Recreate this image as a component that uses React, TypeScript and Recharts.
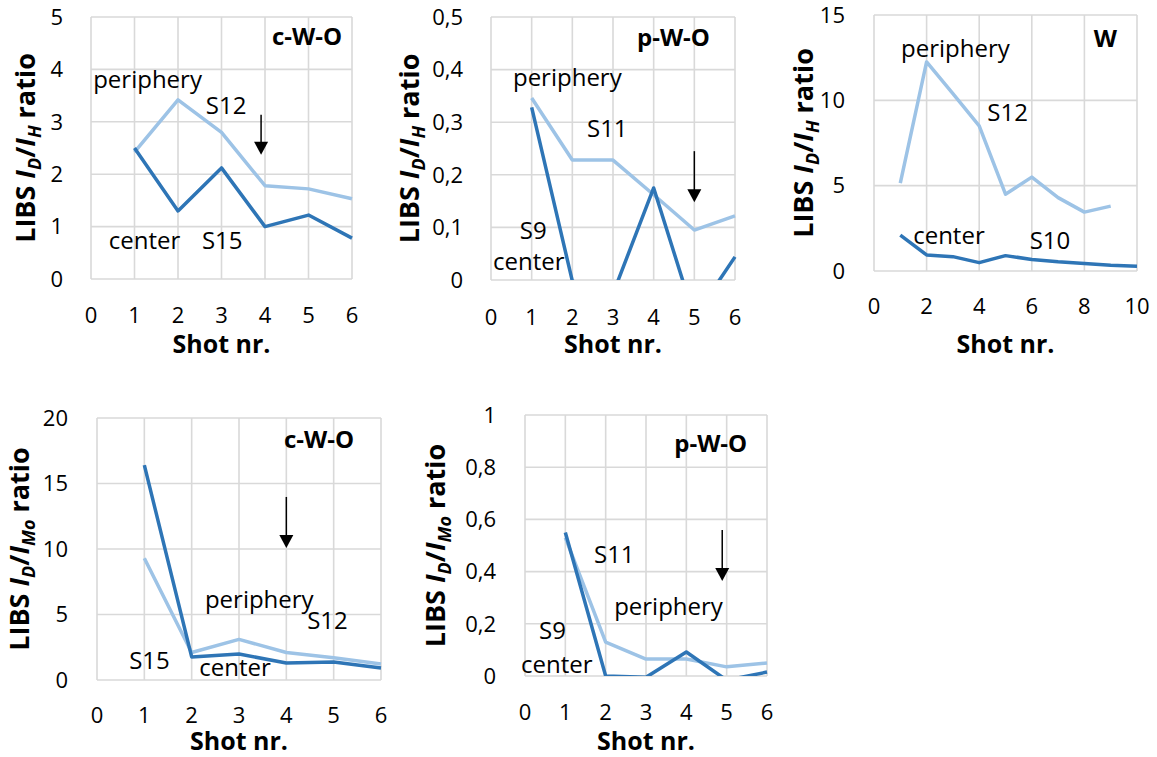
import { LineChart, Line, XAxis, YAxis, CartesianGrid, ReferenceDot, Label } from "recharts";

// shot numbers
const shots6 = [1, 2, 3, 4, 5, 6];
const shots10 = [1, 2, 3, 4, 5, 6, 7, 8, 9, 10];

// LIBS D/H ratio
const cwoH_periphery = [2.42, 3.42, 2.8, 1.78, 1.72, 1.53];
const cwoH_center = [2.5, 1.3, 2.12, 1.0, 1.22, 0.78];
const pwoH_periphery = [0.346, 0.228, 0.228, 0.162, 0.095, 0.122];
const pwoH_center = [0.328, -0.002, -0.026, 0.175, -0.071, 0.044];
const wH_periphery = [5.15, 12.25, 10.4, 8.5, 4.5, 5.5, 4.3, 3.45, 3.8];
const wH_center = [2.1, 0.94, 0.84, 0.49, 0.9, 0.68, 0.54, 0.44, 0.34, 0.28];

// LIBS D/Mo ratio
const cwoMo_periphery = [9.3, 2.1, 3.1, 2.1, 1.7, 1.22];
const cwoMo_center = [16.4, 1.76, 1.98, 1.3, 1.37, 0.92];
const pwoMo_periphery = [0.53, 0.13, 0.065, 0.065, 0.035, 0.05];
const pwoMo_center = [0.55, 0, -0.005, 0.092, -0.016, 0.015];

// axis ticks
const xTicks6 = [0, 1, 2, 3, 4, 5, 6];
const xTicks10 = [0, 2, 4, 6, 8, 10];
const yTicks5 = [0, 1, 2, 3, 4, 5];
const yTicks05 = [0, 0.1, 0.2, 0.3, 0.4, 0.5];
const yTicks15 = [0, 5, 10, 15];
const yTicks20 = [0, 5, 10, 15, 20];
const yTicks1 = [0, 0.2, 0.4, 0.6, 0.8, 1];

const LIGHT = "#9DC3E6";
const DARK = "#2E75B6";
const GRID = "#D9D9D9";
const FONT = "'Open Sans', sans-serif";

type Note = { text: string; x: number; y: number; bold?: boolean };

type PanelCfg = {
  box: { left: number; top: number; width: number; height: number };
  plot: { left: number; right: number; top: number; bottom: number };
  shots: number[];
  periphery: number[];
  center: number[];
  xMax: number;
  xTicks: number[];
  yMax: number;
  yTicks: number[];
  xTickGap: number;
  yTickGap: number;
  yLabelX: number;
  sub: string;
  notes: Note[];
  arrow?: { x: number; y: number; len: number };
};

const panels: PanelCfg[] = [
  {
    box: { left: 0, top: 0, width: 365, height: 360 },
    plot: { left: 91, right: 352, top: 17, bottom: 279 },
    shots: shots6, periphery: cwoH_periphery, center: cwoH_center,
    xMax: 6, xTicks: xTicks6, yMax: 5, yTicks: yTicks5,
    xTickGap: 28, yTickGap: 28, yLabelX: 35, sub: "H",
    notes: [
      { text: "periphery", x: 0.05, y: 3.65 },
      { text: "S12", x: 2.64, y: 3.15 },
      { text: "center", x: 0.41, y: 0.57 },
      { text: "S15", x: 2.55, y: 0.57 },
      { text: "c-W-O", x: 4.16, y: 4.47, bold: true },
    ],
    arrow: { x: 3.91, y: 2.37, len: 40 },
  },
  {
    box: { left: 380, top: 0, width: 370, height: 360 },
    plot: { left: 111, right: 355, top: 17, bottom: 280 },
    shots: shots6, periphery: pwoH_periphery, center: pwoH_center,
    xMax: 6, xTicks: xTicks6, yMax: 0.5, yTicks: yTicks05,
    xTickGap: 29, yTickGap: 28, yLabelX: 39, sub: "H",
    notes: [
      { text: "periphery", x: 0.54, y: 0.369 },
      { text: "S11", x: 2.36, y: 0.272 },
      { text: "S9", x: 0.71, y: 0.078 },
      { text: "center", x: 0.05, y: 0.019 },
      { text: "p-W-O", x: 3.59, y: 0.445, bold: true },
    ],
    arrow: { x: 5, y: 0.148, len: 51 },
  },
  {
    box: { left: 770, top: 0, width: 387, height: 360 },
    plot: { left: 104, right: 367, top: 15, bottom: 271 },
    shots: shots10, periphery: wH_periphery, center: wH_center,
    xMax: 10, xTicks: xTicks10, yMax: 15, yTicks: yTicks15,
    xTickGap: 27, yTickGap: 29, yLabelX: 43, sub: "H",
    notes: [
      { text: "periphery", x: 1.03, y: 12.54 },
      { text: "S12", x: 4.31, y: 8.79 },
      { text: "center", x: 1.49, y: 1.58 },
      { text: "S10", x: 5.92, y: 1.29 },
      { text: "W", x: 8.36, y: 13.12, bold: true },
    ],
  },
  {
    box: { left: 0, top: 390, width: 390, height: 367 },
    plot: { left: 97, right: 381, top: 28, bottom: 290 },
    shots: shots6, periphery: cwoMo_periphery, center: cwoMo_center,
    xMax: 6, xTicks: xTicks6, yMax: 20, yTicks: yTicks20,
    xTickGap: 27, yTickGap: 29, yLabelX: 29, sub: "Mo",
    notes: [
      { text: "periphery", x: 2.28, y: 5.5 },
      { text: "S12", x: 4.44, y: 3.9 },
      { text: "S15", x: 0.68, y: 0.84 },
      { text: "center", x: 2.16, y: 0.3 },
      { text: "c-W-O", x: 3.95, y: 17.7, bold: true },
    ],
    arrow: { x: 4, y: 10.08, len: 51 },
  },
  {
    box: { left: 410, top: 390, width: 380, height: 367 },
    plot: { left: 115, right: 357, top: 25, bottom: 286 },
    shots: shots6, periphery: pwoMo_periphery, center: pwoMo_center,
    xMax: 6, xTicks: xTicks6, yMax: 1, yTicks: yTicks1,
    xTickGap: 28, yTickGap: 29, yLabelX: 35, sub: "Mo",
    notes: [
      { text: "S11", x: 1.71, y: 0.433 },
      { text: "periphery", x: 2.21, y: 0.234 },
      { text: "S9", x: 0.35, y: 0.142 },
      { text: "center", x: -0.1, y: 0.011 },
      { text: "p-W-O", x: 3.7, y: 0.858, bold: true },
    ],
    arrow: { x: 4.89, y: 0.364, len: 51 },
  },
];

const fmt = (v: number) => String(v).replace(".", ",");

function Panel({ cfg }: { cfg: PanelCfg }) {
  const { box, plot } = cfg;
  const rows = cfg.shots.map((s, i) => ({
    shot: s,
    periphery: cfg.periphery[i] ?? null,
    center: cfg.center[i] ?? null,
  }));
  const tickStyle = { fontSize: 22, fill: "#000", fontFamily: FONT };

  const yLabel = (p: any) => {
    const vb = p.viewBox || {};
    const cy = vb.y + vb.height / 2;
    const x = cfg.yLabelX;
    return (
      <text
        x={x}
        y={cy}
        transform={`rotate(-90 ${x} ${cy})`}
        textAnchor="middle"
        fontFamily={FONT}
        fontWeight={700}
        fontSize={27}
        fill="#000"
      >
        <tspan>LIBS </tspan>
        <tspan fontStyle="italic">I</tspan>
        <tspan fontStyle="italic" fontSize={18} dy={6}>D</tspan>
        <tspan dy={-6}>/</tspan>
        <tspan fontStyle="italic">I</tspan>
        <tspan fontStyle="italic" fontSize={18} dy={6}>{cfg.sub}</tspan>
        <tspan dy={-6}> ratio</tspan>
      </text>
    );
  };

  const xLabel = (p: any) => {
    const vb = p.viewBox || {};
    return (
      <text
        x={vb.x + vb.width / 2}
        y={box.height - 7}
        textAnchor="middle"
        fontFamily={FONT}
        fontWeight={700}
        fontSize={25}
        fill="#000"
      >
        Shot nr.
      </text>
    );
  };

  return (
    <div style={{ position: "absolute", left: box.left, top: box.top }}>
      <LineChart
        width={box.width}
        height={box.height}
        data={rows}
        margin={{ top: plot.top, right: box.width - plot.right, left: 0, bottom: 0 }}
      >
        <CartesianGrid stroke={GRID} strokeWidth={1.6} />
        <XAxis
          type="number"
          dataKey="shot"
          domain={[0, cfg.xMax]}
          ticks={cfg.xTicks}
          interval={0}
          tickLine={false}
          axisLine={false}
          tickSize={0}
          tickMargin={cfg.xTickGap}
          height={box.height - plot.bottom}
          tick={tickStyle}
        >
          <Label content={xLabel} />
        </XAxis>
        <YAxis
          type="number"
          domain={[0, cfg.yMax]}
          ticks={cfg.yTicks}
          interval={0}
          allowDataOverflow
          tickLine={false}
          axisLine={false}
          tickSize={0}
          tickMargin={cfg.yTickGap}
          width={plot.left}
          tick={tickStyle}
          tickFormatter={fmt}
        >
          <Label content={yLabel} />
        </YAxis>
        <Line
          type="linear"
          dataKey="periphery"
          stroke={LIGHT}
          strokeWidth={3.5}
          strokeLinejoin="round"
          dot={false}
          activeDot={false}
          isAnimationActive={false}
        />
        <Line
          type="linear"
          dataKey="center"
          stroke={DARK}
          strokeWidth={3.5}
          strokeLinejoin="round"
          dot={false}
          activeDot={false}
          isAnimationActive={false}
        />
        {cfg.notes.map((n) => (
          <ReferenceDot
            key={n.text}
            x={n.x}
            y={n.y}
            r={0}
            ifOverflow="visible"
            shape={(p: any) => (
              <text
                x={p.cx}
                y={p.cy}
                fontFamily={FONT}
                fontSize={24}
                fontWeight={n.bold ? 700 : 400}
                fill="#000"
              >
                {n.text}
              </text>
            )}
          />
        ))}
        {cfg.arrow && (
          <ReferenceDot
            x={cfg.arrow.x}
            y={cfg.arrow.y}
            r={0}
            ifOverflow="visible"
            shape={(p: any) => (
              <g>
                <line x1={p.cx} y1={p.cy - cfg.arrow!.len} x2={p.cx} y2={p.cy - 12} stroke="#000" strokeWidth={1.5} />
                <polygon
                  points={`${p.cx},${p.cy} ${p.cx - 7},${p.cy - 13} ${p.cx + 7},${p.cy - 13}`}
                  fill="#000"
                />
              </g>
            )}
          />
        )}
      </LineChart>
    </div>
  );
}

export default function App() {
  return (
    <div
      style={{
        position: "absolute",
        left: 0,
        top: 0,
        width: 1157,
        height: 757,
        background: "#fff",
        fontFamily: FONT,
      }}
    >
      {panels.map((cfg, i) => (
        <Panel key={i} cfg={cfg} />
      ))}
    </div>
  );
}
